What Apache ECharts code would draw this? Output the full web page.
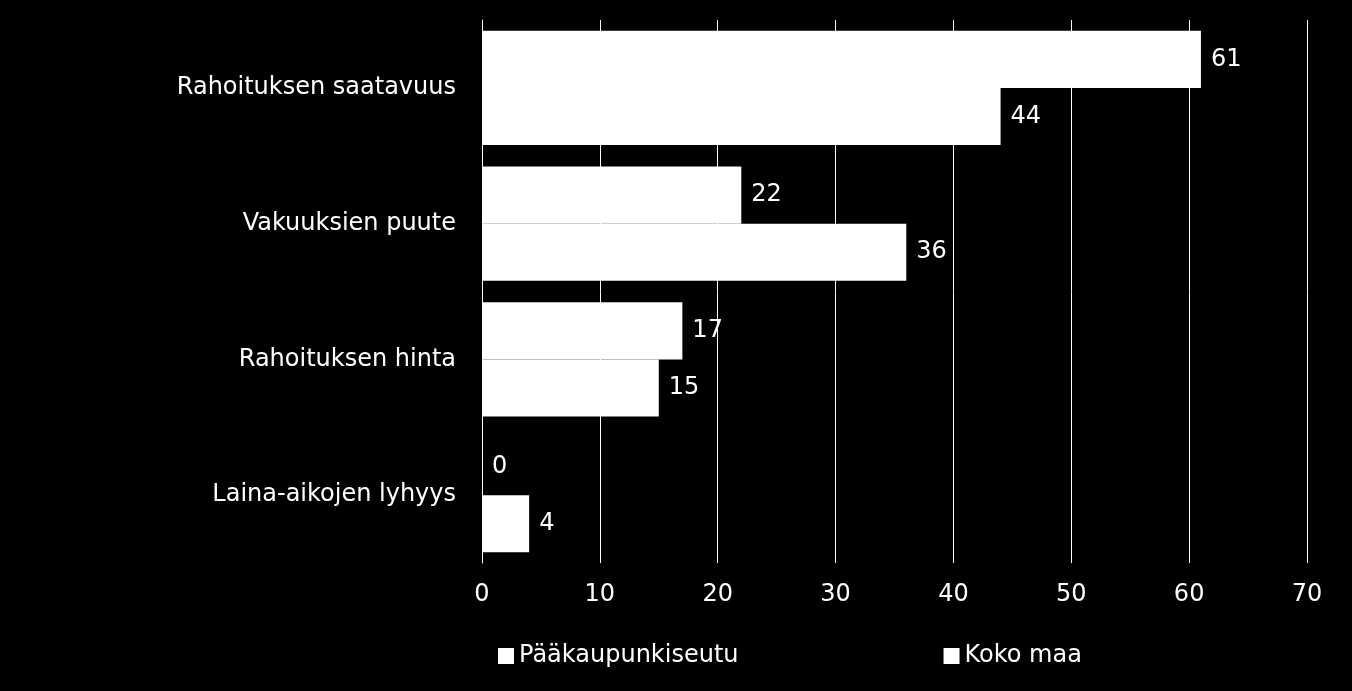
<!DOCTYPE html><html><head><meta charset="utf-8">
<script src="https://cdn.jsdelivr.net/npm/echarts@6/dist/echarts.min.js"></script>
<style>html,body{margin:0;background:#000}#c{width:1352px;height:691px}</style></head><body><div id="c"></div>
<script>
const categories=["Rahoituksen saatavuus","Vakuuksien puute","Rahoituksen hinta","Laina-aikojen lyhyys"];
const seriesNames=["Pääkaupunkiseutu","Koko maa"];
const paakaupunkiseutu=[61,22,17,0];
const kokoMaa=[44,36,15,4];
const F="DejaVu Sans";
const chart=echarts.init(document.getElementById('c'));
const lbl={show:true,position:'right',color:'#fff',fontFamily:F,fontSize:24,distance:10};
chart.setOption({
backgroundColor:'#000',animation:false,
grid:{left:482,right:45,top:20,bottom:128},
legend:{bottom:18,left:493,itemGap:205,icon:'rect',itemWidth:16,itemHeight:16,
 textStyle:{color:'#fff',fontFamily:F,fontSize:24},data:seriesNames},
xAxis:{type:'value',min:0,max:70,interval:10,
 axisLabel:{color:'#fff',fontFamily:F,fontSize:24,margin:20},
 splitLine:{lineStyle:{color:'#fff',width:1}},axisLine:{show:false},axisTick:{show:false}},
yAxis:{type:'category',inverse:true,data:categories,
 axisLabel:{color:'#fff',fontFamily:F,fontSize:24,margin:26},
 axisLine:{lineStyle:{color:'#fff'}},axisTick:{show:false}},
series:[
 {name:seriesNames[0],type:'bar',data:paakaupunkiseutu,itemStyle:{color:'#fff'},barGap:'0%',barCategoryGap:'16%',label:lbl},
 {name:seriesNames[1],type:'bar',data:kokoMaa,itemStyle:{color:'#fff'},label:lbl}
]});
</script></body></html>
